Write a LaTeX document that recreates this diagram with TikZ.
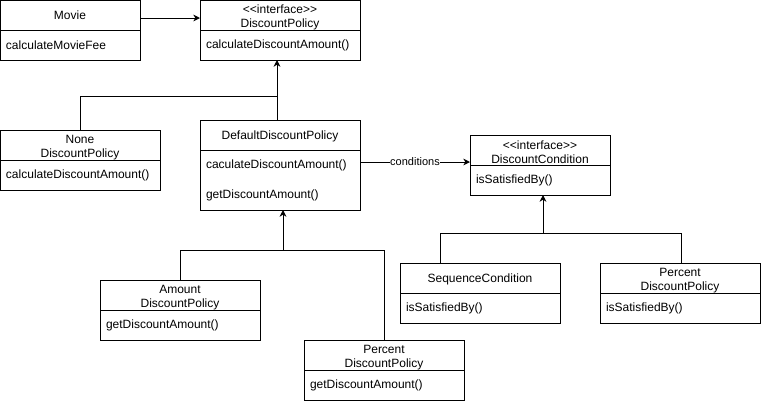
\documentclass[tikz,border=0pt]{standalone}
\usepackage{fontspec}
\setmainfont{Liberation Sans}
\usetikzlibrary{arrows.meta,calc}
\begin{document}
\begin{tikzpicture}[x=0.75pt,y=-0.75pt, line width=0.75pt,
  every node/.style={font=\fontsize{9}{10.8}\selectfont, inner sep=0pt, outer sep=0pt},
  hdr/.style={draw, anchor=north west, minimum height=22.5pt},
  ttl/.style={text height=6.6pt, text depth=1.9pt},
  ttltwo/.style={align=center},
  bdy/.style={draw, anchor=north west, minimum height=22.5pt},
  bdytwo/.style={draw, anchor=north west, minimum height=45pt},
  mth/.style={anchor=west},
  arr/.style={-{Stealth[length=5pt,width=5pt,inset=1.5pt]}},
  lbl/.style={fill=white, font=\fontsize{8.25}{10}\selectfont, inner sep=0.5pt}]
\useasboundingbox (0,0) rectangle (761,401);

% Movie
\node[hdr, minimum width=105pt] (movieH) at (0,0) {};
\node[ttl] (movieT) at ($(movieH.center)+(0,1.5)$) {Movie};
\node[bdy, minimum width=105pt] (movieB) at (movieH.south west) {};
\node[mth] (movieM) at ($(movieB.west)+(6,0.7)$) {calculateMovieFee};

% DiscountPolicy interface
\node[hdr, minimum width=120pt] (dpH) at (200,0) {};
\node[ttltwo] (dpT) at ($(dpH.center)+(0,2.5)$) {{<}{<}interface{>}{>}\\DiscountPolicy};
\node[bdy, minimum width=120pt] (dpB) at (dpH.south west) {};
\node[mth] (dpM) at ($(dpB.west)+(6,0.7)$) {calculateDiscountAmount()};

% None
\node[hdr, minimum width=120pt] (noneH) at (0,130) {};
\node[ttltwo] (noneT) at ($(noneH.center)+(0,2.5)$) {None\\DiscountPolicy};
\node[bdy, minimum width=120pt] (noneB) at (noneH.south west) {};
\node[mth] (noneM) at ($(noneB.west)+(6,0.7)$) {calculateDiscountAmount()};

% Default
\node[hdr, minimum width=120pt] (defH) at (200,120) {};
\node[ttl] (defT) at ($(defH.center)+(0,1.5)$) {DefaultDiscountPolicy};
\node[bdytwo, minimum width=120pt] (defB) at (defH.south west) {};
\node[mth] (defM1) at ($(defB.north west)+(6,15.7)$) {caculateDiscountAmount()};
\node[mth] (defM2) at ($(defB.north west)+(6,45.7)$) {getDiscountAmount()};

% DiscountCondition
\node[hdr, minimum width=105pt] (dcH) at (470,135) {};
\node[ttltwo] (dcT) at ($(dcH.center)+(0,2.5)$) {{<}{<}interface{>}{>}\\DiscountCondition};
\node[bdy, minimum width=105pt] (dcB) at (dcH.south west) {};
\node[mth] (dcM) at ($(dcB.west)+(6,0.7)$) {isSatisfiedBy()};

% SequenceCondition
\node[hdr, minimum width=120pt] (seqH) at (400,263) {};
\node[ttl] (seqT) at ($(seqH.center)+(0,1.5)$) {SequenceCondition};
\node[bdy, minimum width=120pt] (seqB) at (seqH.south west) {};
\node[mth] (seqM) at ($(seqB.west)+(6,0.7)$) {isSatisfiedBy()};

% Percent (condition)
\node[hdr, minimum width=120pt] (prH) at (600,263) {};
\node[ttltwo] (prT) at ($(prH.center)+(0,2.5)$) {Percent\\DiscountPolicy};
\node[bdy, minimum width=120pt] (prB) at (prH.south west) {};
\node[mth] (prM) at ($(prB.west)+(6,0.7)$) {isSatisfiedBy()};

% Amount
\node[hdr, minimum width=120pt] (amH) at (100,280) {};
\node[ttltwo] (amT) at ($(amH.center)+(0,2.5)$) {Amount\\DiscountPolicy};
\node[bdy, minimum width=120pt] (amB) at (amH.south west) {};
\node[mth] (amM) at ($(amB.west)+(6,0.7)$) {getDiscountAmount()};

% Percent (policy)
\node[hdr, minimum width=120pt] (pbH) at (304,340) {};
\node[ttltwo] (pbT) at ($(pbH.center)+(0,2.5)$) {Percent\\DiscountPolicy};
\node[bdy, minimum width=120pt] (pbB) at (pbH.south west) {};
\node[mth] (pbM) at ($(pbB.west)+(6,0.7)$) {getDiscountAmount()};

% junction coordinates
\coordinate (m1) at ($(movieH.east)+(0,3)$);
\coordinate (j1) at (277,96);
\coordinate (c1) at (415,162);
\coordinate (j2) at (543,233);
\coordinate (j2a) at (440,233);
\coordinate (j2b) at (681,233);
\coordinate (j3) at (283,250);

% connectors
\draw[arr] (m1) -- (m1 -| dpH.west);
\draw[arr] (defH.north -| j1) -- (j1 |- dpB.south);
\draw (noneH.north) -- (noneH.north |- j1) -- (j1);
\draw[arr] (c1 -| defB.east) -- (c1 -| dcH.west) node[lbl, pos=0.5] {conditions};
\draw[arr] (j2) -- (j2 |- dcB.south);
\draw (j2a |- seqH.north) -- (j2a) -- (j2b) -- (j2b |- prH.north);
\draw[arr] (j3) -- (j3 |- defB.south);
\draw (amH.north) -- (amH.north |- j3) -- (pbH.north |- j3) -- (pbH.north);
\end{tikzpicture}
\end{document}
